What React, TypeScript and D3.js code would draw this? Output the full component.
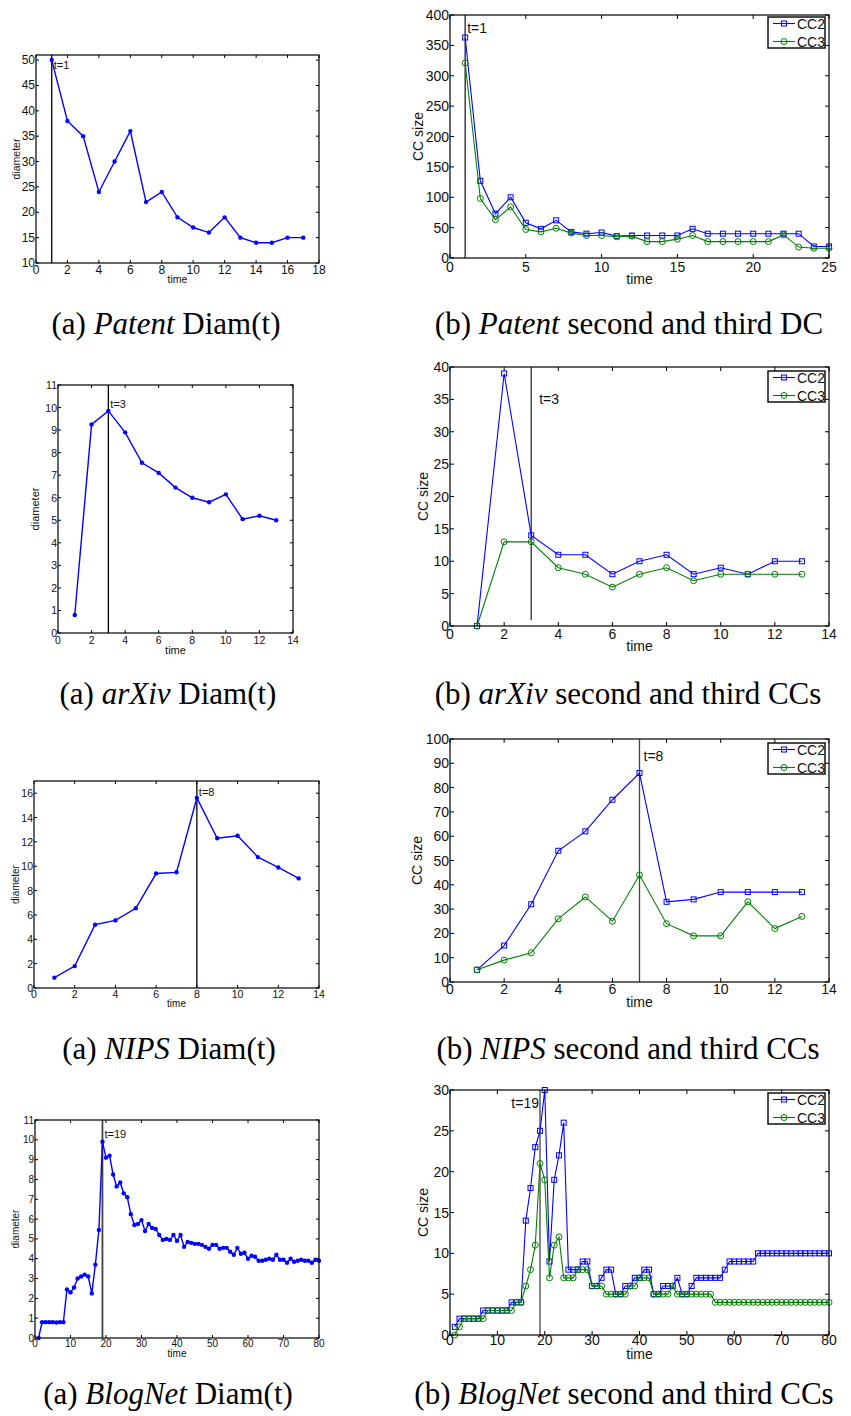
import React from 'react';
import * as d3 from 'd3';

// ---- data ----
const patentDiam = [50, 38, 35, 24, 30, 36, 22, 24, 19, 17, 16, 19, 15, 14, 14, 15, 15];
const patentCC2 = [363, 127, 73, 100, 58, 48, 62, 43, 40, 42, 36, 37, 37, 37, 37, 48, 40, 40, 40, 40, 40, 40, 40, 19, 19];
const patentCC3 = [321, 98, 63, 84, 47, 43, 49, 41, 37, 37, 35, 36, 27, 27, 31, 37, 27, 27, 27, 27, 27, 38, 18, 16, 16];

const arxivDiam = [0.8, 9.25, 9.85, 8.9, 7.55, 7.1, 6.45, 6.0, 5.8, 6.15, 5.05, 5.2, 5.0];
const arxivCC2 = [0, 39, 14, 11, 11, 8, 10, 11, 8, 9, 8, 10, 10];
const arxivCC3 = [0, 13, 13, 9, 8, 6, 8, 9, 7, 8, 8, 8, 8];

const nipsDiam = [0.85, 1.8, 5.2, 5.55, 6.55, 9.4, 9.5, 15.6, 12.3, 12.5, 10.75, 9.9, 9.0];
const nipsCC2 = [5, 15, 32, 54, 62, 75, 86, 33, 34, 37, 37, 37, 37];
const nipsCC3 = [5, 9, 12, 26, 35, 25, 44, 24, 19, 19, 33, 22, 27];

const blogDiam = [
  0, 0.8, 0.8, 0.8, 0.8, 0.78, 0.8, 0.8, 2.45, 2.3,
  2.55, 3.0, 3.1, 3.2, 3.1, 2.25, 3.7, 5.45, 9.9, 9.1,
  9.2, 8.25, 7.65, 7.85, 7.3, 7.1, 6.25, 5.7, 5.75, 5.95,
  5.4, 5.75, 5.55, 5.5, 5.2, 4.95, 5.0, 4.95, 5.2, 4.9,
  5.2, 4.6, 4.85, 4.8, 4.75, 4.75, 4.7, 4.6, 4.5, 4.7,
  4.7, 4.5, 4.55, 4.55, 4.35, 4.2, 4.55, 4.25, 4.3, 4.0,
  4.15, 4.1, 3.9, 3.9, 3.95, 4.0, 3.95, 4.2, 3.95, 3.95,
  3.8, 4.0, 3.85, 3.9, 3.95, 3.9, 3.9, 3.8, 3.95, 3.9,
];
const blogCC2 = [
  1, 2, 2, 2, 2, 2, 3, 3, 3, 3,
  3, 3, 4, 4, 4, 14, 18, 23, 25, 30,
  9, 19, 22, 26, 8, 8, 8, 9, 9, 6,
  6, 7, 8, 8, 5, 5, 6, 6, 7, 7,
  8, 8, 5, 5, 6, 6, 6, 7, 5, 5,
  6, 7, 7, 7, 7, 7, 7, 8, 9, 9,
  9, 9, 9, 9, 10, 10, 10, 10, 10, 10,
  10, 10, 10, 10, 10, 10, 10, 10, 10, 10,
];
const blogCC3 = [
  0, 1, 2, 2, 2, 2, 2, 3, 3, 3,
  3, 3, 3, 4, 4, 6, 8, 11, 21, 19,
  7, 11, 12, 7, 7, 7, 8, 8, 8, 6,
  6, 6, 5, 5, 5, 5, 5, 6, 6, 7,
  7, 7, 5, 5, 5, 5, 6, 5, 5, 5,
  5, 5, 5, 5, 5, 4, 4, 4, 4, 4,
  4, 4, 4, 4, 4, 4, 4, 4, 4, 4,
  4, 4, 4, 4, 4, 4, 4, 4, 4, 4,
];

// ---- tick labels ----
const ticks0to14 = [0, 2, 4, 6, 8, 10, 12, 14];
const patentDiamXTicks = [0, 2, 4, 6, 8, 10, 12, 14, 16, 18];
const patentDiamYTicks = [10, 15, 20, 25, 30, 35, 40, 45, 50];
const patentCCXTicks = [0, 5, 10, 15, 20, 25];
const patentCCYTicks = [0, 50, 100, 150, 200, 250, 300, 350, 400];
const diam11YTicks = [0, 1, 2, 3, 4, 5, 6, 7, 8, 9, 10, 11];
const arxivCCYTicks = [0, 5, 10, 15, 20, 25, 30, 35, 40];
const nipsDiamYTicks = [0, 2, 4, 6, 8, 10, 12, 14, 16];
const nipsCCYTicks = [0, 10, 20, 30, 40, 50, 60, 70, 80, 90, 100];
const blogXTicks = [0, 10, 20, 30, 40, 50, 60, 70, 80];
const blogCCYTicks = [0, 5, 10, 15, 20, 25, 30];

const BLUE = '#0000ff';
const GREEN = '#008000';
const SANS = 'Liberation Sans, Arial, Helvetica, sans-serif';
const SERIF = 'Liberation Serif, Times New Roman, serif';

const ccSeries = (a, b) => [
  { values: a, color: BLUE, marker: 'square', name: 'CC2' },
  { values: b, color: GREEN, marker: 'circle', name: 'CC3' },
];

const panels = [
  {
    left: 36, right: 319, top: 55, bottom: 263, xDomain: [0, 18], yDomain: [10, 51],
    xTicks: patentDiamXTicks, yTicks: patentDiamYTicks,
    series: [{ values: patentDiam, color: BLUE, marker: 'dot' }],
    vline: 1, mark: { text: 't=1', t: 1, v: 49, anchor: 'start' },
    yLabel: 'diameter', yLabelX: 16, xLabelY: 279, fs: 12, lfs: 10.5, tickDy: 7, tickLen: 3, vColor: '#000',
  },
  {
    left: 450, right: 829, top: 15, bottom: 258, xDomain: [0, 25], yDomain: [0, 400],
    xTicks: patentCCXTicks, yTicks: patentCCYTicks,
    series: ccSeries(patentCC2, patentCC3),
    vline: 1, mark: { text: 't=1', t: 1, v: 378, anchor: 'start' },
    yLabel: 'CC size', yLabelX: 418, xLabelY: 279, fs: 14, lfs: 14, tickDy: 9, tickLen: 4, vColor: '#222', legendTop: 17,
  },
  {
    left: 58, right: 293, top: 385, bottom: 633, xDomain: [0, 14], yDomain: [0, 11],
    xTicks: ticks0to14, yTicks: diam11YTicks,
    series: [{ values: arxivDiam, color: BLUE, marker: 'dot' }],
    vline: 3, mark: { text: 't=3', t: 3, v: 10.15, anchor: 'start' },
    yLabel: 'diameter', yLabelX: 35, xLabelY: 650, fs: 10.5, lfs: 11, tickDy: 7, tickLen: 3, vColor: '#000',
  },
  {
    left: 450, right: 829, top: 367, bottom: 626, xDomain: [0, 14], yDomain: [0, 40],
    xTicks: ticks0to14, yTicks: arxivCCYTicks,
    series: ccSeries(arxivCC2, arxivCC3),
    vline: 3, vlineFrom: 0.9, mark: { text: 't=3', t: 3, v: 35, anchor: 'start', dx: 8 },
    yLabel: 'CC size', yLabelX: 423, xLabelY: 646, fs: 14, lfs: 14, tickDy: 8, tickLen: 4, vColor: '#333', legendTop: 371,
  },
  {
    left: 34, right: 319, top: 781, bottom: 988, xDomain: [0, 14], yDomain: [0, 17],
    xTicks: ticks0to14, yTicks: nipsDiamYTicks,
    series: [{ values: nipsDiam, color: BLUE, marker: 'dot' }],
    vline: 8, mark: { text: 't=8', t: 8, v: 16.1, anchor: 'start' },
    yLabel: 'diameter', yLabelX: 15, xLabelY: 1003, fs: 10.5, lfs: 10, tickDy: 6, tickLen: 3, vColor: '#000',
  },
  {
    left: 450, right: 829, top: 739, bottom: 982, xDomain: [0, 14], yDomain: [0, 100],
    xTicks: ticks0to14, yTicks: nipsCCYTicks,
    series: ccSeries(nipsCC2, nipsCC3),
    vline: 7, mark: { text: 't=8', t: 7, v: 92.8, anchor: 'start', dx: 4 },
    yLabel: 'CC size', yLabelX: 417, xLabelY: 1002, fs: 14, lfs: 14, tickDy: 7, tickLen: 4, vColor: '#444', legendTop: 743,
  },
  {
    left: 35, right: 319, top: 1120, bottom: 1338, xDomain: [0, 80], yDomain: [0, 11],
    xTicks: blogXTicks, yTicks: diam11YTicks,
    series: [{ values: blogDiam, color: BLUE, marker: 'dot' }],
    vline: 19, mark: { text: 't=19', t: 19, v: 10.28, anchor: 'start' },
    yLabel: 'diameter', yLabelX: 15, xLabelY: 1353, fs: 10, lfs: 10, tickDy: 5, tickLen: 3, vColor: '#444', vWidth: 1.8,
  },
  {
    left: 450, right: 829, top: 1090, bottom: 1335, xDomain: [0, 80], yDomain: [0, 30],
    xTicks: blogXTicks, yTicks: blogCCYTicks,
    series: ccSeries(blogCC2, blogCC3),
    vline: 19, mark: { text: 't=19', t: 19, v: 28.4, anchor: 'end', dx: -1 },
    yLabel: 'CC size', yLabelX: 423, xLabelY: 1354, fs: 14, lfs: 14, tickDy: 5, tickLen: 4, vColor: '#444', legendTop: 1093,
  },
];

const captions = [
  { x: 166, y: 334, pre: '(a) ', it: 'Patent', post: ' Diam(t)' },
  { x: 629, y: 334, pre: '(b) ', it: 'Patent', post: ' second and third DC' },
  { x: 168, y: 704, pre: '(a) ', it: 'arXiv', post: ' Diam(t)' },
  { x: 628, y: 704, pre: '(b) ', it: 'arXiv', post: ' second and third CCs' },
  { x: 169, y: 1059, pre: '(a) ', it: 'NIPS', post: ' Diam(t)' },
  { x: 628, y: 1059, pre: '(b) ', it: 'NIPS', post: ' second and third CCs' },
  { x: 168, y: 1404, pre: '(a) ', it: 'BlogNet', post: ' Diam(t)' },
  { x: 624, y: 1404, pre: '(b) ', it: 'BlogNet', post: ' second and third CCs' },
];

function Marker({ type, x, y, color }) {
  if (type === 'dot') return <circle cx={x} cy={y} r={2.2} fill={color} />;
  if (type === 'square')
    return <rect x={x - 2.5} y={y - 2.5} width={5} height={5} fill="none" stroke={color} strokeWidth={1} />;
  return <circle cx={x} cy={y} r={3} fill="none" stroke={color} strokeWidth={1} />;
}

function Panel({ p }) {
  const x = d3.scaleLinear().domain(p.xDomain).range([p.left, p.right]);
  const y = d3.scaleLinear().domain(p.yDomain).range([p.bottom, p.top]);
  const line = d3
    .line()
    .x((_, i) => x(i + 1))
    .y((d) => y(d));
  const lw = p.series.length > 1 ? 1.1 : 1.4;
  const midX = (p.left + p.right) / 2;
  const midY = (p.top + p.bottom) / 2;
  const vTop = p.top;
  const vBottom = p.vlineFrom != null ? y(p.vlineFrom) : p.bottom;

  return (
    <g fontFamily={SANS}>
      {/* ticks, inward on all four sides */}
      {p.xTicks.map((t) => (
        <g key={'x' + t}>
          <line x1={x(t)} x2={x(t)} y1={p.bottom} y2={p.bottom - p.tickLen} stroke="#000" />
          <line x1={x(t)} x2={x(t)} y1={p.top} y2={p.top + p.tickLen} stroke="#000" />
          <text x={x(t)} y={p.bottom + p.tickDy} fontSize={p.fs} textAnchor="middle" dominantBaseline="central" fill="#111">
            {t}
          </text>
        </g>
      ))}
      {p.yTicks.map((t) => (
        <g key={'y' + t}>
          <line x1={p.left} x2={p.left + p.tickLen} y1={y(t)} y2={y(t)} stroke="#000" />
          <line x1={p.right} x2={p.right - p.tickLen} y1={y(t)} y2={y(t)} stroke="#000" />
          <text x={p.left - 1} y={y(t)} fontSize={p.fs} textAnchor="end" dominantBaseline="central" fill="#111">
            {t}
          </text>
        </g>
      ))}

      {/* marker line */}
      <line x1={x(p.vline)} x2={x(p.vline)} y1={vTop} y2={vBottom} stroke={p.vColor} strokeWidth={p.vWidth || 1.3} />
      <text
        x={x(p.mark.t) + (p.mark.dx != null ? p.mark.dx : 2)}
        y={y(p.mark.v)}
        fontSize={p.series.length > 1 ? 14 : 11}
        textAnchor={p.mark.anchor}
        dominantBaseline="central"
        fill="#111"
      >
        {p.mark.text}
      </text>

      {/* series */}
      {p.series.map((s) => (
        <g key={s.color}>
          <path d={line(s.values)} fill="none" stroke={s.color} strokeWidth={lw} />
          {s.values.map((v, i) => (
            <Marker key={i} type={s.marker} x={x(i + 1)} y={y(v)} color={s.color} />
          ))}
        </g>
      ))}

      {/* box */}
      <rect x={p.left} y={p.top} width={p.right - p.left} height={p.bottom - p.top} fill="none" stroke="#000" strokeWidth={1.2} />

      {/* axis labels */}
      <text x={midX} y={p.xLabelY} fontSize={p.lfs} textAnchor="middle" dominantBaseline="central" fill="#111">
        time
      </text>
      <text
        transform={`translate(${p.yLabelX},${midY}) rotate(-90)`}
        fontSize={p.lfs}
        textAnchor="middle"
        dominantBaseline="central"
        fill="#111"
      >
        {p.yLabel}
      </text>

      {/* legend */}
      {p.legendTop != null && (
        <g>
          <rect x={768} y={p.legendTop} width={57} height={31} fill="#fff" stroke="#000" strokeWidth={1.4} />
          {p.series.map((s, i) => {
            const cy = p.legendTop + 6.5 + i * 18;
            return (
              <g key={s.name}>
                <line x1={773} x2={795} y1={cy} y2={cy} stroke={s.color} strokeWidth={1.1} />
                <Marker type={s.marker} x={784} y={cy} color={s.color} />
                <text x={797} y={cy} fontSize={14} dominantBaseline="central" fill="#111">
                  {s.name}
                </text>
              </g>
            );
          })}
        </g>
      )}
    </g>
  );
}

export default function App() {
  return (
    <svg
      width={851}
      height={1416}
      style={{ position: 'absolute', left: 0, top: 0, background: '#fff' }}
    >
      <rect width={851} height={1416} fill="#fff" />
      {panels.map((p, i) => (
        <Panel key={i} p={p} />
      ))}
      {captions.map((c, i) => (
        <text key={i} x={c.x} y={c.y} fontFamily={SERIF} fontSize={31} textAnchor="middle" fill="#000">
          {c.pre}
          <tspan fontStyle="italic">{c.it}</tspan>
          {c.post}
        </text>
      ))}
    </svg>
  );
}
